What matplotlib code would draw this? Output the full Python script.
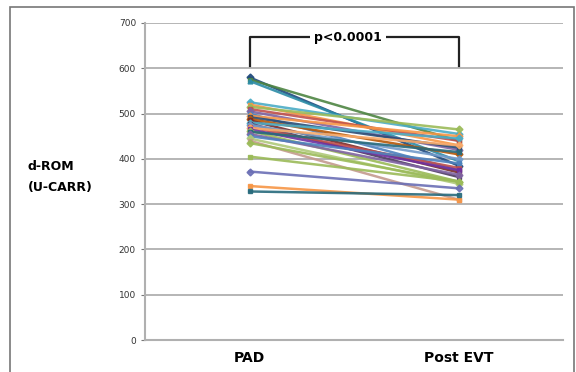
import matplotlib.pyplot as plt
from matplotlib.patches import Rectangle

# d-ROM values per patient: before (PAD) and after EVT
categories = ['PAD', 'Post EVT']
pad = [580, 575, 572, 525, 520, 515, 510, 505, 500, 495, 492, 488, 485, 480, 478,
       475, 470, 468, 465, 462, 460, 455, 450, 445, 440, 435, 405, 372, 340, 328]
post = [385, 440, 395, 455, 430, 465, 440, 420, 375, 450, 425, 410, 370, 445, 360,
        400, 380, 430, 375, 350, 415, 365, 390, 345, 310, 350, 350, 335, 310, 320]
yticks = [0, 100, 200, 300, 400, 500, 600, 700]

colors = ['#1F497D', '#4E8542', '#2C8CA6', '#4BACC6', '#F79646', '#9BBB59', '#C0504D',
          '#8064A2', '#4F81BD', '#F79646', '#2C4D75', '#B65708', '#772C2A', '#4BACC6',
          '#4D3B62', '#729ACA', '#C0504D', '#F9AB6B', '#7030A0', '#9BBB59', '#276A7C',
          '#8064A2', '#4F81BD', '#AFC97A', '#C49A8E', '#9BBB59', '#9BBB59', '#6B6FB5',
          '#F79646', '#276A7C']
markers = ['D', 's', '^', 'D', 's', 'D', 's', 'D', 's', 'D', 's', 'D', 's', 'D', 's',
           'D', 's', 'D', 's', 'D', 's', 'D', 's', 'D', 's', 'D', 's', 'D', 's', 's']

fig = plt.figure(figsize=(5.76, 3.72), dpi=100)
fig.patches.append(Rectangle((10 / 576, -0.05), 564 / 576, 1 - 7 / 372 + 0.05,
                             transform=fig.transFigure, fill=False,
                             edgecolor='#777777', linewidth=1.2))
ax = fig.add_axes([145 / 576, 1 - 340 / 372, 418 / 576, 317 / 372])

x = [0, 1]
for i in range(len(pad)):
    ax.plot(x, [pad[i], post[i]], color=colors[i], linewidth=1.8,
            marker=markers[i], markersize=3.5, alpha=0.9)

ax.set_xlim(-0.5, 1.5)
ax.set_ylim(0, 700)
ax.set_yticks(yticks)
ax.set_xticks(x)
ax.set_xticklabels(categories, fontsize=10, fontweight='bold')
ax.tick_params(axis='y', labelsize=6.5, colors='#777777', length=3, width=0.8,
               labelcolor='#333333')
ax.tick_params(axis='x', length=0, pad=8)
ax.yaxis.grid(True, color='#b0b0b0', linewidth=1.3)
ax.set_axisbelow(True)
for s in ['top', 'right']:
    ax.spines[s].set_visible(False)
ax.spines['left'].set_color('#b0b0b0')
ax.spines['left'].set_linewidth(1.5)
ax.spines['bottom'].set_color('#b0b0b0')
ax.spines['bottom'].set_linewidth(1.5)

fig.text(28 / 576, 1 - 177 / 372, 'd-ROM\n(U-CARR)', fontsize=9, fontweight='bold',
         ha='left', va='center', linespacing=1.7)

# significance bracket
ax.plot([0, 0, 1, 1], [605, 668, 668, 605], color='#222222', linewidth=1.6,
        clip_on=False)
ax.text(0.47, 668, 'p<0.0001', ha='center', va='center', fontsize=9,
        fontweight='bold', bbox=dict(facecolor='white', edgecolor='none', pad=3))

fig.savefig('out.png', dpi=100)
